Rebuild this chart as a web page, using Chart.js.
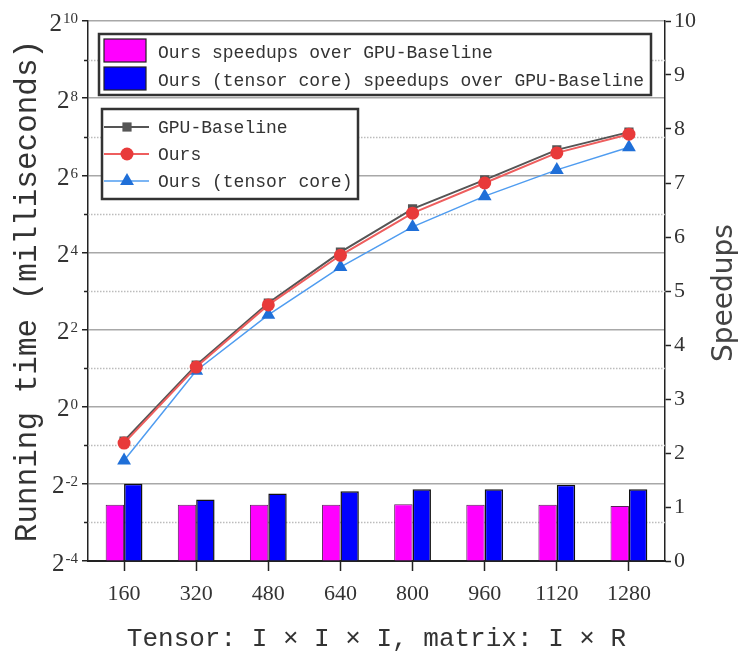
<!DOCTYPE html>
<html><head><meta charset="utf-8">
<script src="https://cdn.jsdelivr.net/npm/chart.js@4/dist/chart.umd.min.js"></script>
<style>html,body{margin:0;padding:0;background:#fff}#wrap{width:743px;height:658px}</style>
</head><body><div id="wrap"><canvas id="c" width="743" height="658"></canvas></div>
<script>
const sizes = ['160','320','480','640','800','960','1120','1280'];
const baselineMs = [0.54, 2.11, 6.45, 16.1, 35.0, 58.9, 101, 139];
const oursMs = [0.52, 2.04, 6.23, 15.2, 32.4, 55.7, 95.7, 134];
const tensorMs = [0.38, 1.91, 5.21, 12.3, 25.3, 44.0, 70.5, 106];
const oursSpeedup = [1.04, 1.04, 1.04, 1.04, 1.05, 1.04, 1.04, 1.02];
const tensorSpeedup = [1.43, 1.14, 1.25, 1.29, 1.33, 1.33, 1.41, 1.33];
const timeExponents = [-4,-3,-2,-1,0,1,2,3,4,5,6,7,8,9,10];
const barLabels = ['Ours speedups over GPU-Baseline', 'Ours (tensor core) speedups over GPU-Baseline'];
const lineLabels = ['GPU-Baseline', 'Ours', 'Ours (tensor core)'];
const xTitle = 'Tensor: I \u00d7 I \u00d7 I, matrix: I \u00d7 R';
const yTitle = 'Running time (milliseconds)';
const y1Title = 'Speedups';

const isEven = k => ((k % 2) + 2) % 2 === 0;
const expOf = v => Math.round(Math.log2(v));

function drawMarker(ctx, style, x, y, r, color) {
  ctx.save();
  ctx.fillStyle = color;
  ctx.beginPath();
  if (style === 'rect') {
    const s = r * Math.SQRT1_2;
    ctx.rect(x - s, y - s, 2 * s, 2 * s);
  } else if (style === 'triangle') {
    ctx.moveTo(x, y - r);
    ctx.lineTo(x + r * Math.sin(Math.PI / 3), y + r / 2);
    ctx.lineTo(x - r * Math.sin(Math.PI / 3), y + r / 2);
    ctx.closePath();
  } else {
    ctx.arc(x, y, r, 0, Math.PI * 2);
  }
  ctx.fill();
  ctx.restore();
}

const extras = {
  id: 'extras',
  beforeDatasetsDraw(chart) {
    const {ctx, chartArea: ca} = chart;
    const ys = chart.scales.y;
    ctx.save();
    ys.ticks.forEach(t => {
      const k = expOf(t.value);
      if (isEven(k)) return;
      const py = Math.round(ys.getPixelForValue(t.value)) + 0.5;
      ctx.strokeStyle = '#bcbcbc';
      ctx.lineWidth = 1.5;
      ctx.setLineDash([1.5, 1.5]);
      ctx.beginPath(); ctx.moveTo(ca.left, py); ctx.lineTo(ca.right, py); ctx.stroke();
      ctx.setLineDash([]);
      ctx.strokeStyle = '#222';
      ctx.beginPath(); ctx.moveTo(ca.left - 4, py); ctx.lineTo(ca.left, py); ctx.stroke();
    });
    ctx.restore();
  },
  afterDraw(chart) {
    const {ctx, chartArea: ca} = chart;
    const ys = chart.scales.y;
    const y1 = chart.scales.y1;
    const ds = chart.data.datasets;
    ctx.save();
    // left tick labels 2^k
    ys.ticks.forEach(t => {
      const k = expOf(t.value);
      if (!isEven(k)) return;
      const py = ys.getPixelForValue(t.value);
      const ex = String(k);
      ctx.fillStyle = '#333';
      ctx.textAlign = 'right';
      ctx.font = '15px "Liberation Serif"';
      const ew = ctx.measureText(ex).width;
      const xr = ca.left - 10;
      ctx.textBaseline = 'top';
      ctx.fillText(ex, xr, py - 9);
      ctx.font = '25px "Liberation Serif"';
      ctx.textBaseline = 'middle';
      ctx.fillText('2', xr - ew - 1, py + 3);
    });
    // right axis title, reading bottom-to-top
    ctx.save();
    ctx.translate(y1.right - 18, (ca.top + ca.bottom) / 2 + 2);
    ctx.rotate(-Math.PI / 2);
    ctx.font = '28px "DejaVu Sans"';
    ctx.fillStyle = '#444';
    ctx.textAlign = 'center';
    ctx.textBaseline = 'middle';
    ctx.fillText(y1Title, 0, 0);
    ctx.restore();
    // legend 1 (bars)
    let x0 = ca.left + 11, y0 = ca.top + 13;
    ctx.fillStyle = '#fff';
    ctx.fillRect(x0, y0, 552, 61);
    ctx.strokeStyle = '#333';
    ctx.lineWidth = 2.5;
    ctx.strokeRect(x0, y0, 552, 61);
    ctx.font = '18px "Liberation Mono"';
    ctx.textAlign = 'left';
    ctx.textBaseline = 'middle';
    [0, 1].forEach(i => {
      const d = ds[i];
      const sy = y0 + 5 + i * 28;
      ctx.fillStyle = d.backgroundColor;
      ctx.fillRect(x0 + 5, sy, 42, 23);
      ctx.strokeStyle = '#222';
      ctx.lineWidth = 1.2;
      ctx.strokeRect(x0 + 5, sy, 42, 23);
      ctx.fillStyle = '#333';
      ctx.fillText(d.label, x0 + 59, y0 + 19 + i * 28);
    });
    // legend 2 (lines)
    x0 = ca.left + 14; y0 = ca.top + 88;
    ctx.fillStyle = '#fff';
    ctx.fillRect(x0, y0, 256, 90);
    ctx.strokeStyle = '#333';
    ctx.lineWidth = 2.5;
    ctx.strokeRect(x0, y0, 256, 90);
    [2, 3, 4].forEach((di, i) => {
      const d = ds[di];
      const ry = y0 + 18 + i * 27;
      ctx.strokeStyle = d.borderColor;
      ctx.lineWidth = d.borderWidth;
      ctx.beginPath(); ctx.moveTo(x0 + 2, ry); ctx.lineTo(x0 + 47, ry); ctx.stroke();
      drawMarker(ctx, d.pointStyle, x0 + 25, ry, d.pointRadius, d.pointBackgroundColor);
      ctx.fillStyle = '#333';
      ctx.fillText(d.label, x0 + 56, ry + 1);
    });
    ctx.restore();
  }
};

new Chart(document.getElementById('c'), {
  type: 'bar',
  data: {
    labels: sizes,
    datasets: [
      {type: 'bar', label: barLabels[0], data: oursSpeedup, yAxisID: 'y1',
       backgroundColor: '#ff00ff', borderColor: '#5a205a', borderWidth: 1,
       categoryPercentage: 0.51, barPercentage: 1, order: 10},
      {type: 'bar', label: barLabels[1], data: tensorSpeedup, yAxisID: 'y1',
       backgroundColor: '#0000ff', borderColor: '#111', borderWidth: 1.5,
       categoryPercentage: 0.51, barPercentage: 1, order: 10},
      {type: 'line', label: lineLabels[0], data: baselineMs, yAxisID: 'y',
       borderColor: '#555', borderWidth: 2, pointStyle: 'rect', pointRadius: 6.5,
       pointBackgroundColor: '#555', pointBorderColor: '#555', pointBorderWidth: 0, tension: 0, order: 4},
      {type: 'line', label: lineLabels[1], data: oursMs, yAxisID: 'y',
       borderColor: '#ee5e5e', borderWidth: 2, pointStyle: 'circle', pointRadius: 6.5,
       pointBackgroundColor: '#e83a3a', pointBorderColor: '#e83a3a', pointBorderWidth: 0, tension: 0, order: 2},
      {type: 'line', label: lineLabels[2], data: tensorMs, yAxisID: 'y',
       borderColor: '#4f9cf0', borderWidth: 1.5, pointStyle: 'triangle', pointRadius: 8,
       pointBackgroundColor: '#1f6fd8', pointBorderColor: '#1f6fd8', pointBorderWidth: 0, tension: 0, order: 3}
    ]
  },
  options: {
    responsive: false,
    devicePixelRatio: 1,
    animation: false,
    layout: {padding: {top: 21, left: 0, right: 0, bottom: 0}},
    plugins: {legend: {display: false}, tooltip: {enabled: false}},
    scales: {
      x: {
        type: 'category', offset: true,
        grid: {display: true, drawOnChartArea: false, offset: false, tickLength: 10, tickColor: '#222', tickWidth: 1.5},
        border: {color: '#222', width: 2},
        ticks: {font: {family: 'Liberation Serif', size: 22}, color: '#333', padding: 10, maxRotation: 0, autoSkip: false},
        title: {display: true, text: xTitle, font: {family: 'Liberation Mono', size: 26}, color: '#333', padding: {top: 0, bottom: 3}},
        afterFit(s) { s.height = 97; }
      },
      y: {
        type: 'logarithmic', position: 'left', min: 2 ** -4, max: 2 ** 10,
        afterBuildTicks(s) { s.ticks = timeExponents.map(k => ({value: 2 ** k})); },
        ticks: {callback: () => ''},
        grid: {
          color: c => isEven(expOf(c.tick.value)) ? '#a8a8a8' : 'rgba(0,0,0,0)',
          lineWidth: 1.5, tickLength: 6,
          tickColor: c => isEven(expOf(c.tick.value)) ? '#222' : 'rgba(0,0,0,0)',
          tickWidth: 1.5
        },
        border: {color: '#222', width: 1.5},
        title: {display: true, text: yTitle, font: {family: 'Liberation Mono', size: 31}, color: '#333', padding: {top: 9, bottom: 0}},
        afterFit(s) { s.width = 88; }
      },
      y1: {
        type: 'linear', position: 'right', min: 0, max: 10,
        ticks: {stepSize: 1, font: {family: 'Liberation Serif', size: 22}, color: '#333', padding: 3},
        grid: {drawOnChartArea: false, tickLength: 6, tickColor: '#222', tickWidth: 1.5},
        border: {color: '#222', width: 1.5},
        title: {display: false, text: y1Title},
        afterFit(s) { s.width = 78; }
      }
    }
  },
  plugins: [extras]
});
</script>
</body></html>
